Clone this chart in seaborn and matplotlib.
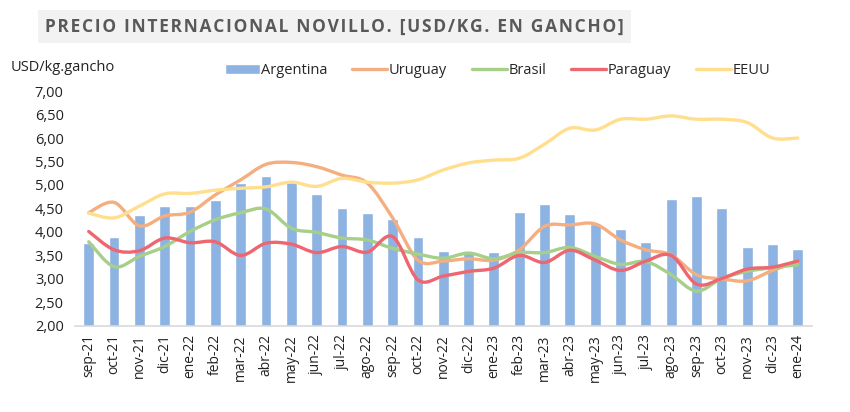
import matplotlib
matplotlib.use("Agg")
import matplotlib.pyplot as plt
from matplotlib.path import Path
from matplotlib.patches import PathPatch, Patch
from matplotlib.lines import Line2D
import matplotlib.ticker as mticker
import numpy as np
import pandas as pd
import seaborn as sns

# Data
months = ["sep-21", "oct-21", "nov-21", "dic-21", "ene-22", "feb-22", "mar-22",
          "abr-22", "may-22", "jun-22", "jul-22", "ago-22", "sep-22", "oct-22",
          "nov-22", "dic-22", "ene-23", "feb-23", "mar-23", "abr-23", "may-23",
          "jun-23", "jul-23", "ago-23", "sep-23", "oct-23", "nov-23", "dic-23",
          "ene-24"]
argentina = [3.77, 3.89, 4.37, 4.55, 4.55, 4.68, 5.04, 5.19, 5.11, 4.80, 4.52,
             4.40, 4.27, 3.89, 3.60, 3.58, 3.57, 4.43, 4.60, 4.38, 4.17, 4.06,
             3.79, 4.70, 4.76, 4.51, 3.68, 3.75, 3.64]
uruguay = [4.41, 4.63, 4.13, 4.34, 4.42, 4.79, 5.11, 5.44, 5.48, 5.39, 5.21,
           5.04, 4.30, 3.40, 3.38, 3.43, 3.40, 3.62, 4.12, 4.15, 4.17, 3.83,
           3.62, 3.51, 3.09, 3.00, 2.96, 3.18, 3.37]
brasil = [3.79, 3.26, 3.48, 3.69, 4.01, 4.26, 4.41, 4.49, 4.08, 3.99, 3.87,
          3.83, 3.65, 3.53, 3.44, 3.55, 3.43, 3.56, 3.56, 3.67, 3.48, 3.31,
          3.37, 3.09, 2.74, 3.01, 3.16, 3.24, 3.30]
paraguay = [4.01, 3.62, 3.60, 3.87, 3.77, 3.79, 3.50, 3.76, 3.74, 3.56, 3.69,
            3.57, 3.90, 2.98, 3.06, 3.16, 3.23, 3.50, 3.35, 3.61, 3.40, 3.18,
            3.38, 3.50, 2.89, 3.01, 3.21, 3.25, 3.38]
eeuu = [4.40, 4.30, 4.55, 4.81, 4.82, 4.89, 4.93, 4.96, 5.06, 4.97, 5.14,
        5.06, 5.04, 5.11, 5.32, 5.47, 5.53, 5.57, 5.87, 6.21, 6.17, 6.40,
        6.40, 6.47, 6.40, 6.40, 6.33, 6.00, 6.00]
yticks = [2.0, 2.5, 3.0, 3.5, 4.0, 4.5, 5.0, 5.5, 6.0, 6.5, 7.0]

TITLE = "PRECIO INTERNACIONAL NOVILLO. [USD/KG. EN GANCHO]"
COL_BAR = "#8DB3E2"
LINES = [("Uruguay", uruguay, "#F4AE7F"),
         ("Brasil", brasil, "#A6CF8A"),
         ("Paraguay", paraguay, "#EE6670"),
         ("EEUU", eeuu, "#FFDF8E")]


def smooth_path(xs, ys):
    """Excel-like smoothed line as cubic Bezier segments through the points."""
    pts = np.column_stack([xs, ys]).astype(float)
    n = len(pts)
    verts = [pts[0]]
    codes = [Path.MOVETO]
    for i in range(n - 1):
        p0 = pts[i - 1] if i > 0 else pts[i]
        p1, p2 = pts[i], pts[i + 1]
        p3 = pts[i + 2] if i + 2 < n else pts[i + 1]
        verts += [p1 + (p2 - p0) / 6.0, p2 - (p3 - p1) / 6.0, p2]
        codes += [Path.CURVE4] * 3
    return Path(verts, codes)


sns.set_style("white")
plt.rcParams["font.family"] = ["Open Sans", "DejaVu Sans"]

df = pd.DataFrame({"mes": months, "Argentina": argentina})

fig = plt.figure(figsize=(8.5, 4.12), dpi=100)
ax = fig.add_axes([0.088, 0.209, 0.867, 0.570])

sns.barplot(data=df, x="mes", y="Argentina", color=COL_BAR, width=0.43,
            saturation=1, ax=ax, zorder=2)

x = np.arange(len(months))
for name, vals, col in LINES:
    ax.add_patch(PathPatch(smooth_path(x, vals), facecolor="none",
                           edgecolor=col, lw=2.4, capstyle="round",
                           joinstyle="round", zorder=3))

ax.set_ylim(2, 7)
ax.set_xlim(-0.55, len(months) - 0.45)
ax.set_yticks(yticks)
ax.yaxis.set_major_formatter(
    mticker.FuncFormatter(lambda v, _: f"{v:.2f}".replace(".", ",")))
ax.tick_params(axis="y", labelsize=10.5, colors="#222222", length=0, pad=8)
ax.tick_params(axis="x", labelsize=10, colors="#222222", length=0,
               rotation=90, pad=6)
ax.set_xlabel("")
ax.set_ylabel("")
for s in ["top", "right", "left"]:
    ax.spines[s].set_visible(False)
ax.spines["bottom"].set_color("#D9D9D9")
ax.spines["bottom"].set_linewidth(1.2)

handles = [Patch(facecolor=COL_BAR, label="Argentina")]
handles += [Line2D([0], [0], color=c, lw=2.4, label=n) for n, _, c in LINES]
fig.legend(handles=handles, loc="center", bbox_to_anchor=(0.585, 0.828),
           ncol=5, frameon=False, fontsize=10.5, handlelength=2.4,
           handletextpad=0.1, columnspacing=1.7, handleheight=0.7)

fig.text(0.012, 0.835, "USD/kg.gancho", fontsize=10.5, color="#222222",
         va="center", ha="left")

fig.patches.append(plt.Rectangle((0.045, 0.895), 0.697, 0.08,
                                 transform=fig.transFigure,
                                 facecolor="#F2F2F2", edgecolor="none"))
# wide letter spacing as in the reference title
spaced = "\u200a".join(TITLE)
fig.text(0.393, 0.935, spaced, fontsize=12.5, fontweight="bold",
         color="#595959", ha="center", va="center")

fig.savefig("out.png", dpi=100)
plt.close(fig)
